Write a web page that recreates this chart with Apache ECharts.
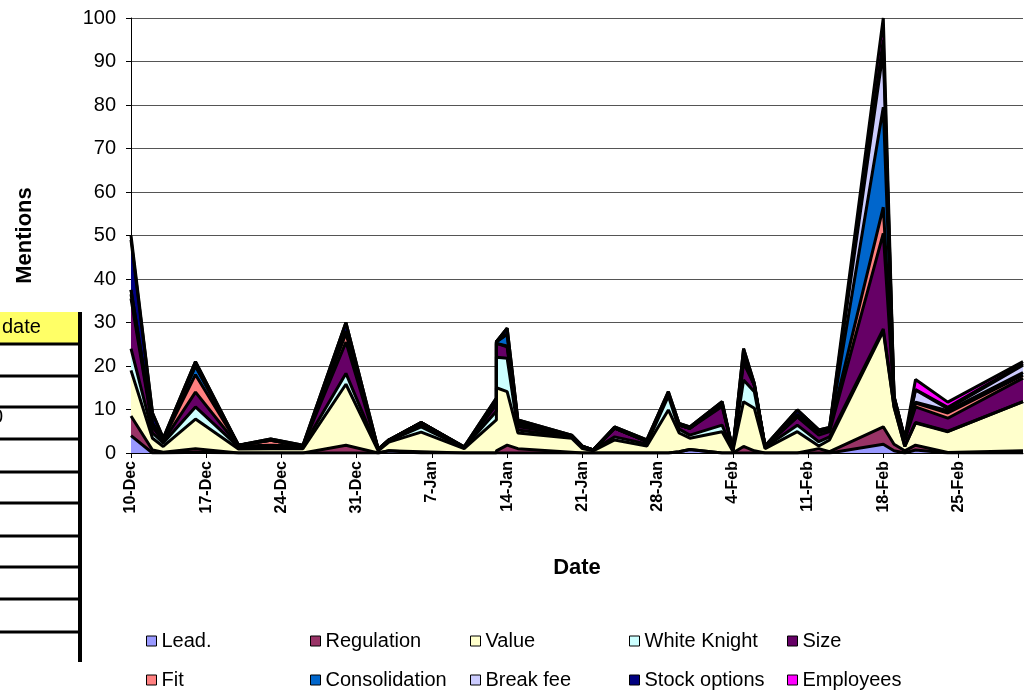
<!DOCTYPE html>
<html>
<head>
<meta charset="utf-8">
<title>Mentions</title>
<script src="https://cdn.jsdelivr.net/npm/echarts@6.0.0/dist/echarts.min.js"></script>
<style>
  html, body { margin: 0; padding: 0; background: #fff; }
  #myChart { width: 1028px; height: 693px; }
</style>
</head>
<body>
<div id="myChart"></div>
<script>
// days counted from 10-Dec (13-Jan has two entries)
const days = [0, 2, 3, 6, 10, 13, 16, 20, 23, 24, 27, 31, 34, 34, 35, 36, 41, 42, 43, 45,
  48, 50, 51, 52, 55, 56, 57, 58, 59, 62, 64, 65, 70, 71, 72, 73, 76, 83]
const tickLabels = ['10-Dec', '17-Dec', '24-Dec', '31-Dec', '7-Jan', '14-Jan', '21-Jan',
  '28-Jan', '4-Feb', '11-Feb', '18-Feb', '25-Feb']

const lead = [4, 0, 0, 0.2, 0, 0, 0, 0, 0, 0.5, 0, 0, 0, 0, 0, 0, 0, 0, 0, 0,
  0, 0, 0.3, 0.8, 0, 0, 0, 0, 0, 0, 0, 0, 2, 0.5, 0, 0.7, 0, 0]
const regulation = [4.5, 0.7, 0.2, 0.8, 0, 0, 0, 1.8, 0, 0, 0.3, 0, 0, 0.5, 1.8, 1, 0.2, 0, 0, 0,
  0, 0, 0, 0, 0, 0, 1.5, 0.5, 0, 0, 1, 0.3, 4, 1.5, 0.5, 1.1, 0.1, 0.5]
const value = [10.5, 2.7, 1.3, 6.8, 0.9, 1, 1, 14, 0.5, 2, 4.5, 1, 7.6, 14.5, 12.3, 3.6, 3.2, 1, 0.5, 3,
  1.6, 9.9, 4.3, 2.6, 4.9, 0.4, 10.3, 9.8, 1, 4.9, 0.6, 2.7, 22, 8.5, 1, 5.1, 4.8, 11.3]
const whiteKnight = [5, 1.2, 0.8, 2.8, 0.5, 0.5, 0.5, 2.5, 0.2, 0.3, 1.2, 0.2, 2, 7, 7.7, 0.7, 0.3, 0.3, 0.2, 0.7,
  0.5, 3.2, 0.9, 0.7, 1.5, 0.2, 5, 3.8, 0.3, 1.5, 1, 0.7, 0.5, 0.2, 0, 0.1, 0.1, 0]
const size = [11.5, 1.4, 0.4, 3.4, 0.2, 0.3, 0.1, 7.2, 0.1, 0.2, 0.5, 0.1, 1.5, 3.2, 2.6, 0.8, 0.3, 0.2, 0, 2,
  0.6, 0.5, 0.9, 1.6, 4.3, 0.1, 3.9, 1.5, 0.2, 1.9, 1.5, 1.2, 22, 1.5, 1.5, 3.6, 3, 5.4]
const fit = [1, 0.5, 0.4, 4, 0.2, 1.1, 0, 2, 0, 0, 0.5, 0, 0.5, 0, 0.2, 0.5, 0, 0, 0, 0,
  0, 0, 0, 0, 0.4, 0, 1.1, 0, 0, 0, 0.7, 0.6, 6, 0.2, 0.2, 0.9, 1.2, 0.7]
const consolidation = [1, 0.3, 0, 2, 0, 0, 0, 0.5, 0, 0, 0, 0, 0, 0.4, 2.7, 0.5, 0, 0, 0, 0,
  0, 0, 0, 0, 0.2, 0, 0.5, 0, 0, 0.5, 0, 0, 23, 0.3, 0, 0.2, 0.5, 0.6]
const breakFee = [0, 0, 0, 0, 0, 0, 0, 0, 0, 0, 0, 0, 0, 0, 0, 0, 0, 0, 0, 0,
  0, 0, 0, 0, 0, 0, 0, 0, 0, 0, 0, 0, 13, 0.2, 0, 2.8, 0.5, 1.7]
const stockOptions = [11.5, 2.4, 0.3, 1, 0, 0.3, 0.2, 2, 0.1, 0, 0, 0.1, 1, 0, 1.4, 0.5, 0.1, 0.1, 0, 0.3,
  0.3, 0.5, 0.4, 0.3, 0.5, 0, 1.7, 0.4, 0.1, 1.1, 0.5, 0.4, 2.5, 0.1, 0.2, 0.1, 0.3, 0.3]
const employees = [1, 0, 0, 0, 0, 0, 0, 0, 0, 0, 0, 0, 0, 0, 0, 0, 0, 0, 0, 0,
  0, 0, 0, 0, 0, 0, 0, 0, 0, 0, 0, 0, 5, 0, 0, 2.3, 1.2, 0.5]

const seriesList = [
  { name: 'Lead.', color: '#9999ff', data: lead },
  { name: 'Regulation', color: '#993366', data: regulation },
  { name: 'Value', color: '#ffffcc', data: value },
  { name: 'White Knight', color: '#ccffff', data: whiteKnight },
  { name: 'Size', color: '#660066', data: size },
  { name: 'Fit', color: '#ff8080', data: fit },
  { name: 'Consolidation', color: '#0066cc', data: consolidation },
  { name: 'Break fee', color: '#ccccff', data: breakFee },
  { name: 'Stock options', color: '#000080', data: stockOptions },
  { name: 'Employees', color: '#ff00ff', data: employees },
]

// legend columns, as in the original two-row layout
const legendCols = [
  ['Lead.', 'Fit'],
  ['Regulation', 'Consolidation'],
  ['Value', 'Break fee'],
  ['White Knight', 'Stock options'],
  ['Size', 'Employees'],
]
const legendLeft = [146, 310, 470, 629, 787]

const font = "'Liberation Sans', Arial, sans-serif"
const tickValues = tickLabels.map((t, i) => i * 7)

// stack by hand: echarts stacks the x column on a value x axis
let running = days.map(() => 0)
const stacked = seriesList.map(s => {
  running = running.map((r, i) => r + s.data[i])
  return { name: s.name, color: s.color, top: running }
})

// the clipped spreadsheet cells to the left of the chart
const sheet = [
  { type: 'rect', shape: { x: 0, y: 312, width: 79, height: 32 }, style: { fill: '#ffff66' } },
  { type: 'text', style: { x: 2, y: 317, text: 'date', font: '20px ' + font, fill: '#000' } },
  { type: 'text', style: { x: -8, y: 407, text: '0', font: '20px ' + font, fill: '#000' } },
]
;[344, 376, 407, 439, 472, 503, 536, 567, 599, 632].forEach(y => {
  sheet.push({ type: 'line', shape: { x1: 0, y1: y, x2: 79, y2: y }, style: { stroke: '#000', lineWidth: 3 } })
})
sheet.push({ type: 'line', shape: { x1: 80, y1: 312, x2: 80, y2: 662 }, style: { stroke: '#000', lineWidth: 4 } })

let myChart = echarts.init(document.getElementById('myChart'))
myChart.setOption({
  animation: false,
  textStyle: { fontFamily: font },
  grid: {
    left: 131,
    right: 5,
    top: 18,
    bottom: 240,
  },
  legend: legendCols.map((names, i) => ({
    data: names,
    orient: 'vertical',
    left: legendLeft[i],
    top: 631,
    padding: 0,
    itemGap: 19,
    itemWidth: 10,
    itemHeight: 10,
    icon: 'rect',
    itemStyle: { borderColor: '#000', borderWidth: 1 },
    textStyle: { fontSize: 20, color: '#000', fontFamily: font },
    selectedMode: false,
  })),
  xAxis: {
    type: 'value',
    min: 0,
    max: days[days.length - 1],
    interval: 7,
    name: 'Date',
    nameLocation: 'middle',
    nameGap: 104,
    nameTextStyle: { fontSize: 22, fontWeight: 'bold', color: '#000' },
    axisLine: { lineStyle: { color: '#000', width: 1 } },
    axisTick: { length: 5, lineStyle: { color: '#000' }, customValues: tickValues },
    axisLabel: {
      rotate: 90,
      margin: 8,
      fontSize: 16,
      fontWeight: 'bold',
      color: '#000',
      customValues: tickValues,
      formatter: v => tickLabels[Math.round(v / 7)] || '',
    },
    splitLine: { show: false },
  },
  yAxis: {
    type: 'value',
    min: 0,
    max: 100,
    interval: 10,
    name: 'Mentions',
    nameLocation: 'middle',
    nameGap: 95,
    nameTextStyle: { fontSize: 22, fontWeight: 'bold', color: '#000' },
    axisLine: { show: true, lineStyle: { color: '#000', width: 1 } },
    axisTick: { show: true, length: 5, lineStyle: { color: '#000' } },
    axisLabel: { fontSize: 20, color: '#000', margin: 15 },
    splitLine: { lineStyle: { color: '#555', width: 1 } },
  },
  // top layer first, so each lower layer is painted over it
  series: stacked.slice().reverse().map(s => ({
    name: s.name,
    type: 'line',
    showSymbol: false,
    color: s.color,
    lineStyle: { color: '#000', width: 3 },
    areaStyle: { color: s.color, opacity: 1 },
    data: days.map((d, i) => [d, s.top[i]]),
  })),
  graphic: sheet,
})
</script>
</body>
</html>
